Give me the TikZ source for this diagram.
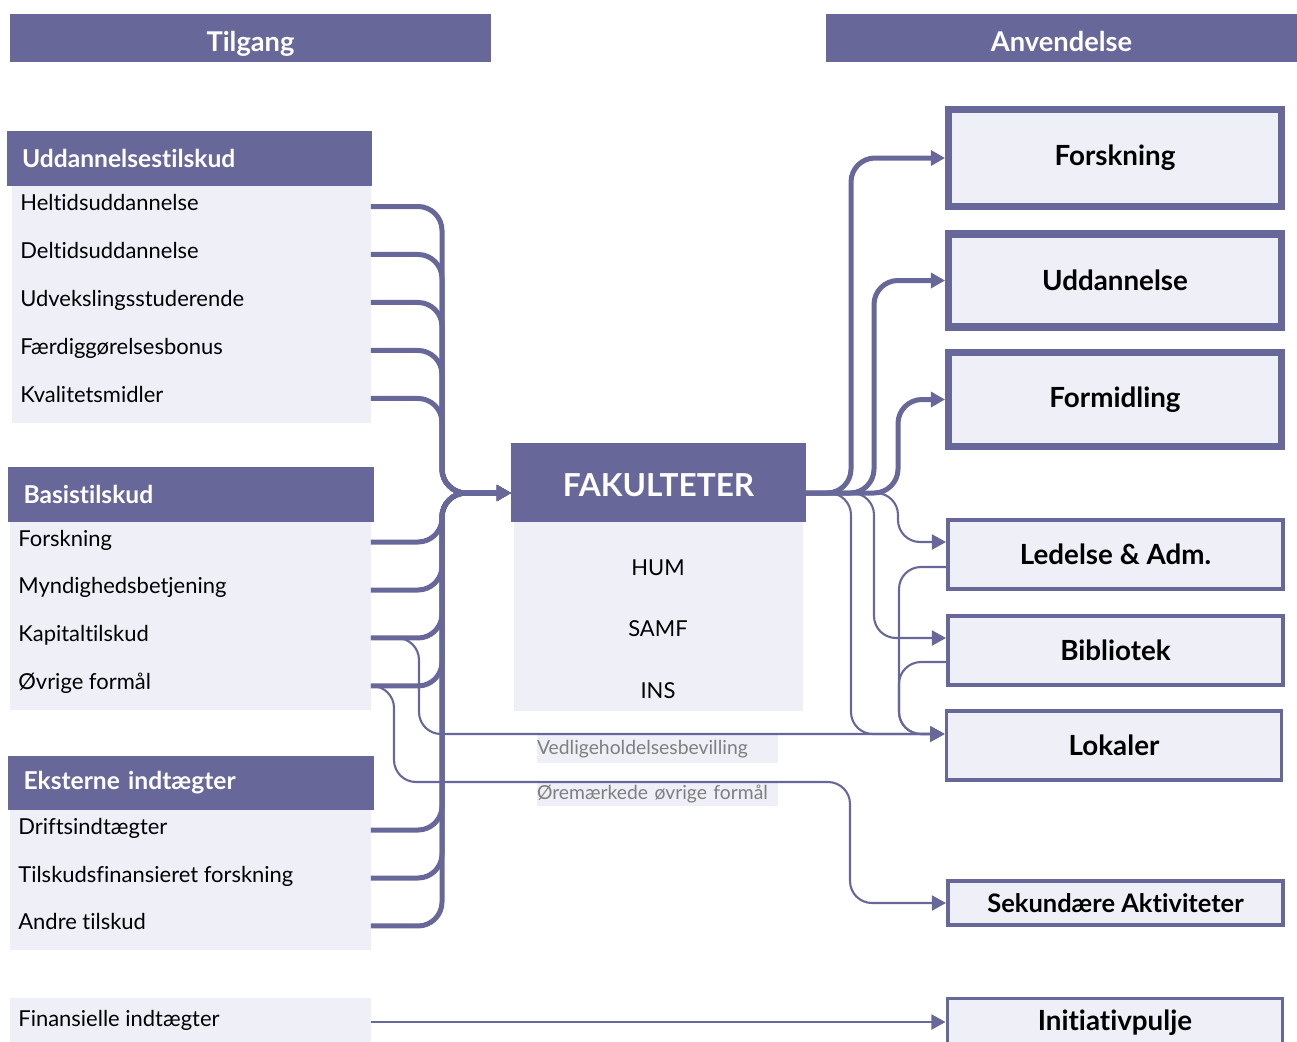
\documentclass[tikz,border=0pt]{standalone}
\usepackage{fontspec}
\setmainfont{Lato}[Ligatures=NoCommon]
\usetikzlibrary{arrows.meta, positioning, calc}
\definecolor{kuLilla}{HTML}{67679A}
\definecolor{kuLys}{HTML}{EFEFF8}
\definecolor{kuGraa}{HTML}{7F7F7F}

\begin{document}
\begin{tikzpicture}[
        x=0.02cm, y=-0.02cm,
        topbar/.style={fill=kuLilla, text=white, font=\fontsize{15.5}{18}\bfseries,
                       minimum height=0.96cm, inner sep=0, outer sep=0,
                       text height=0.6cm, text depth=0.04cm},
        grphead/.style={fill=kuLilla, text=white, font=\fontsize{14}{16}\bfseries,
                        minimum width=7.3cm, minimum height=1.1cm, text width=6.7cm,
                        align=left, inner xsep=0.3cm, inner ysep=0, outer sep=0},
        body/.style={fill=kuLys, inner sep=0, outer sep=0},
        item/.style={font=\fontsize{12.5}{15}\selectfont, anchor=west, inner sep=0,
                     text height=0.32cm, text depth=0.16cm},
        nextitem/.style={below=0.96cm of #1.west, anchor=west},
        unit/.style={font=\fontsize{12.5}{15}\selectfont, inner sep=0},
        fakhead/.style={fill=kuLilla, text=white, font=\fontsize{18}{21}\bfseries,
                        minimum width=5.9cm, minimum height=1.58cm, inner sep=0,
                        outer sep=0, text height=0.54cm, text depth=0pt},
        goalthick/.style={draw=kuLilla, line width=4pt, fill=kuLys, inner sep=0,
                          minimum width=6.66cm, font=\fontsize{15.8}{18}\bfseries},
        goalthin/.style={draw=kuLilla, line width=2pt, fill=kuLys, inner sep=0,
                         minimum width=6.71cm, font=\fontsize{15.8}{18}\bfseries},
        tag/.style={fill=kuLys, text=kuGraa, font=\fontsize{11}{13}\selectfont,
                    text width=4.82cm, align=left, inner sep=0, outer sep=0,
                    text height=0.3cm, text depth=0.1cm, anchor=north west},
        flow/.style={draw=kuLilla, line width=0.1cm, rounded corners=0.48cm,
                     -{Triangle[length=8pt, width=8.5pt]}},
        thinflow/.style={draw=kuLilla, line width=1.2pt, rounded corners=0.44cm,
                         -{Triangle[length=8pt, width=8.5pt]}}
      ]
      \useasboundingbox (0,0) rectangle (1297,1041);
      \clip (0,0) rectangle (1297,1041);

      % column titles
      \node[topbar, minimum width=9.62cm] (tilgang) at (250.5,38) {Tilgang};
      \node[topbar, minimum width=9.42cm] (anvend)  at (1061.5,38) {Anvendelse};

      % Uddannelsestilskud
      \node[grphead] (uddHead) at (189.5,158.5) {Uddannelsestilskud};
      \node[body, minimum width=7.18cm, minimum height=4.74cm, anchor=north west]
        (uddBody) at (12,186) {};
      \node[item] (h1) at (20,206.5) {Heltidsuddannelse};
      \node[item, nextitem=h1] (h2) {Deltidsuddannelse};
      \node[item, nextitem=h2] (h3) {Udvekslingsstuderende};
      \node[item, nextitem=h3] (h4) {Færdiggørelsesbonus};
      \node[item, nextitem=h4] (h5) {Kvalitetsmidler};

      % Basistilskud
      \node[grphead, minimum width=7.32cm] (basHead) at (191,494.5) {Basistilskud};
      \node[body, minimum width=7.22cm, minimum height=3.76cm, anchor=north west]
        (basBody) at (10,522) {};
      \node[item] (b1) at (18,542) {Forskning};
      \node[item, nextitem=b1] (b2) {Myndighedsbetjening};
      \node[item, nextitem=b2] (b3) {Kapitaltilskud};
      \node[item, nextitem=b3] (b4) {Øvrige formål};

      % Eksterne indtaegter
      \node[grphead, minimum width=7.32cm, minimum height=1.08cm] (eksHead)
        at (191,783) {Eksterne indtægter};
      \node[body, minimum width=7.22cm, minimum height=2.8cm, anchor=north west]
        (eksBody) at (10,810) {};
      \node[item] (e1) at (18,830) {Driftsindtægter};
      \node[item, nextitem=e1] (e2) {Tilskudsfinansieret forskning};
      \node[item, nextitem=e2] (e3) {Andre tilskud};

      \node[body, minimum width=7.22cm, minimum height=1cm, anchor=north west]
        (finBody) at (10,998) {};
      \node[item] (fi) at (18,1022) {Finansielle indtægter};

      % fakulteter
      \node[fakhead] (fak) at (658.5,482.5) {FAKULTETER};
      \node[body, minimum width=5.78cm, minimum height=3.78cm, anchor=north]
        (fakBody) at (658.5,522) {};
      \node[unit] (hum)  at (658,568) {HUM};
      \node[unit] (samf) at (658,629) {SAMF};
      \node[unit] (ins)  at (658,691) {INS};

      % anvendelse
      \node[goalthick, minimum height=1.94cm] (forsk)  at (1115,158)   {Forskning};
      \node[goalthick, minimum height=1.86cm] (udd)    at (1115,280.5) {Uddannelse};
      \node[goalthick, minimum height=1.88cm] (formid) at (1115,399.5) {Formidling};
      \node[goalthin, minimum height=1.38cm] (led) at (1115.5,554.5) {Ledelse \& Adm.};
      \node[goalthin, minimum height=1.38cm] (bib) at (1115.5,650.5) {Bibliotek};
      \node[goalthin, minimum height=1.38cm] (lok) at (1114,745.5)   {Lokaler};
      \node[goalthin, minimum height=0.88cm, font=\fontsize{14.5}{17}\bfseries]
        (sek) at (1115.5,903) {Sekundære Aktiviteter};
      \node[goalthin, minimum height=0.98cm] (init) at (1115,1023) {Initiativpulje};

      \node[tag, minimum height=0.56cm] (vedl) at (537,735) {Vedligeholdelsesbevilling};
      \node[tag, minimum height=0.46cm] (oere) at (537,783) {Øremærkede øvrige formål};

      % knaekpunkter
      \coordinate (inJoin)   at (442,493);
      \coordinate (outA)     at (851,493);
      \coordinate (outB)     at (874,493);
      \coordinate (outC)     at (898,493);
      \coordinate (kapBend)  at (419,734);
      \coordinate (oevBendA) at (394,782);
      \coordinate (oevBendB) at (850,903);
      \coordinate (lokJoin)  at (899,734);

      % tilgang -> fakulteter
      \draw[flow] (h1 -| uddBody.east) -| (inJoin) -- ([yshift=-0.21cm]fak.west);
      \draw[flow] (h2 -| uddBody.east) -| (inJoin) -- ([yshift=-0.21cm]fak.west);
      \draw[flow] (h3 -| uddBody.east) -| (inJoin) -- ([yshift=-0.21cm]fak.west);
      \draw[flow] (h4 -| uddBody.east) -| (inJoin) -- ([yshift=-0.21cm]fak.west);
      \draw[flow] (h5 -| uddBody.east) -| (inJoin) -- ([yshift=-0.21cm]fak.west);
      \draw[flow] (b1 -| basBody.east) -| (inJoin) -- ([yshift=-0.21cm]fak.west);
      \draw[flow] (b2 -| basBody.east) -| (inJoin) -- ([yshift=-0.21cm]fak.west);
      \draw[flow] (b3 -| basBody.east) -| (inJoin) -- ([yshift=-0.21cm]fak.west);
      \draw[flow] (b4 -| basBody.east) -| (inJoin) -- ([yshift=-0.21cm]fak.west);
      \draw[flow] (e1 -| eksBody.east) -| (inJoin) -- ([yshift=-0.21cm]fak.west);
      \draw[flow] (e2 -| eksBody.east) -| (inJoin) -- ([yshift=-0.21cm]fak.west);
      \draw[flow] (e3 -| eksBody.east) -| (inJoin) -- ([yshift=-0.21cm]fak.west);

      % direkte linjer
      \draw[thinflow] (b3 -| basBody.east) -| (kapBend) -- ([yshift=0.23cm]lok.west);
      \draw[thinflow] (b4 -| basBody.east) -| (oevBendA) -| (oevBendB) -- (sek.west);
      \draw[thinflow] (fi -| finBody.east) -- (fi -| init.west);

      % fakulteter -> anvendelse
      \draw[flow] ([yshift=-0.21cm]fak.east) -- (outA) |- (forsk.west);
      \draw[flow] ([yshift=-0.21cm]fak.east) -- (outB) |- (udd.west);
      \draw[flow] ([yshift=-0.21cm]fak.east) -- (outC) |- (formid.west);
      \draw[thinflow] ([yshift=-0.21cm]fak.east) -- (outC) |- ([yshift=0.25cm]led.west);
      \draw[thinflow] ([yshift=-0.21cm]fak.east) -- (outB) |- ([yshift=0.25cm]bib.west);
      \draw[thinflow] ([yshift=-0.21cm]fak.east) -- (outA) |- ([yshift=0.23cm]lok.west);
      \draw[thinflow] ([yshift=-0.25cm]led.west) -| (lokJoin) -- ([yshift=0.23cm]lok.west);
      \draw[thinflow] ([yshift=-0.23cm]bib.west) -| (lokJoin) -- ([yshift=0.23cm]lok.west);
    \end{tikzpicture}
\end{document}
